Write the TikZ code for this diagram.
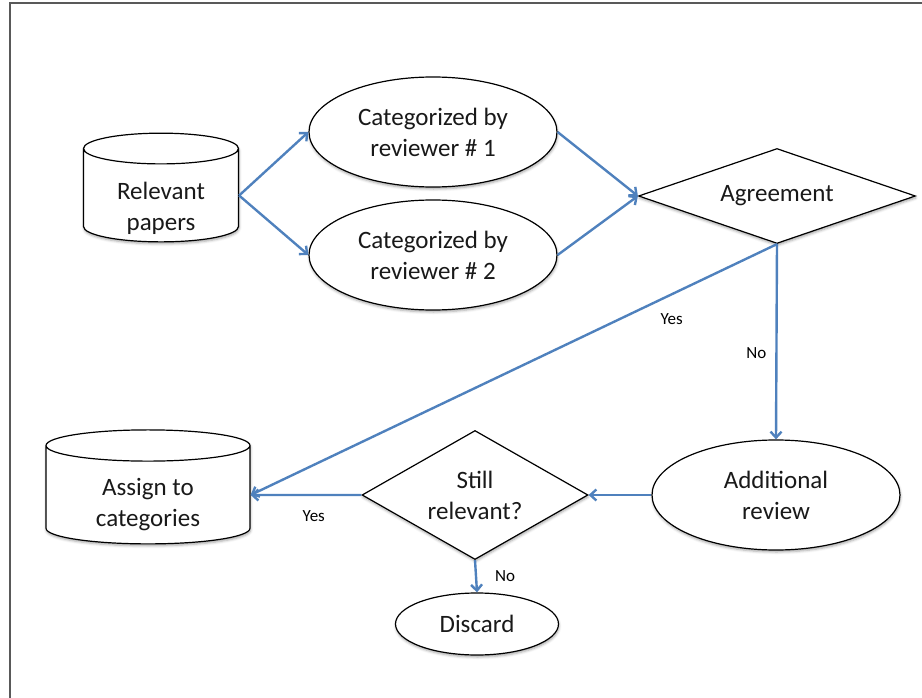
\documentclass[tikz,border=0pt]{standalone}
\usepackage{fontspec}
\setmainfont{Carlito}
\usetikzlibrary{shapes.geometric}
\usetikzlibrary{arrows.meta}
\usetikzlibrary{shadows.blur}

\definecolor{arrowblue}{RGB}{79,129,189}

% text in a cylinder sits below its cap
\newcommand{\undercap}[2]{\raisebox{#1}[\height][\depth]{\begin{tabular}{@{}c@{}}#2\end{tabular}}}

\tikzset{
  txt/.style={font=\fontsize{25}{31}\selectfont, align=center, text=black!90},
  box/.style={txt, draw, fill=white, line width=1.2pt, inner sep=0pt,
    blur shadow={shadow xshift=0.5pt, shadow yshift=-2pt, shadow blur radius=2.5pt, shadow opacity=35}},
  oval/.style={box, ellipse, minimum width=248pt, minimum height=110pt},
  store/.style={box, cylinder, shape border rotate=90},
  decide/.style={box, diamond},
  flow/.style={->, draw=arrowblue, line width=2.4pt},
  lbl/.style={font=\fontsize{17}{20}\selectfont, inner sep=0pt, text=black}
}

\begin{document}
\begin{tikzpicture}[x=1pt, y=-1pt, >={Straight Barb[length=6pt, width=11pt]}]
\useasboundingbox (0,0) rectangle (922,698);
\draw[black!65, line width=1.3pt] (10,698) -- (10,3) -- (922,3);

\node[name=papers, store, aspect=0.35, minimum width=155pt, minimum height=106pt] at (161,195.5) {\undercap{-13pt}{Relevant\\papers}};
\node[name=rev1, oval] at (433,132) {Categorized by\\reviewer \# 1};
\node[name=rev2, oval] at (433,255) {Categorized by\\reviewer \# 2};
\node[name=agree, decide, aspect=2.9, minimum width=277pt, minimum height=95pt] at (777,196) {Agreement};
\node[name=additional, oval] at (776,495) {Additional\\review};
\node[name=still, decide, aspect=1.75, minimum width=226pt, minimum height=129pt] at (475,495) {Still\\relevant?};
\node[name=assign, store, aspect=0.3, minimum width=204pt, minimum height=114pt] at (148,495) {\undercap{-10pt}{Assign to\\categories}};
\node[name=discard, box, ellipse, minimum width=163pt, minimum height=62pt] at (477,624) {Discard};

\draw(papers.east) edge[flow](rev1.west);
\draw(papers.east) edge[flow](rev2.west);
\draw(rev1.east) edge[flow](agree.west);
\draw(rev2.east) edge[flow](agree.west);
\draw(agree.south) edge[flow]node[lbl, pos=0.56, left=9pt]{No}(additional.north);
\draw(agree.south) edge[flow]node[lbl, pos=0.2, below=18pt]{Yes}(assign.east);
\draw(additional.west) edge[flow](still.east);
\draw(still.west) edge[flow]node[lbl, pos=0.43, below=14pt]{Yes}(assign.east);
\draw(still.south) edge[flow]node[lbl, pos=0.5, right=18pt]{No}(discard.north);

\end{tikzpicture}
\end{document}
